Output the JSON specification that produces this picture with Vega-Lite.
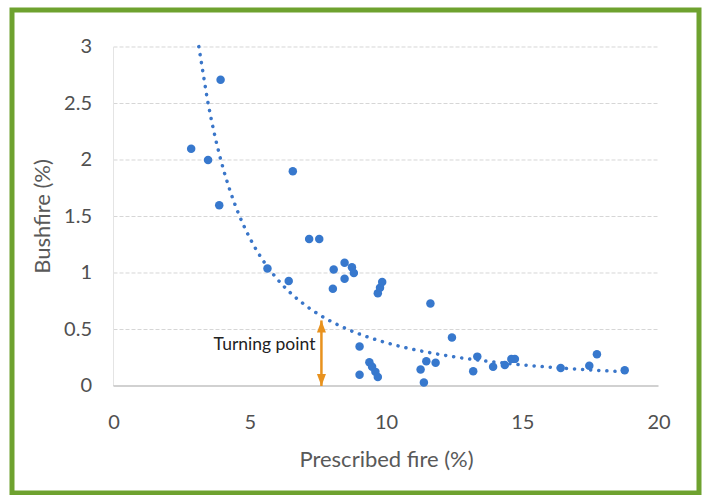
{
  "$schema": "https://vega.github.io/schema/vega-lite/v6.json",
  "width": 687,
  "height": 483,
  "autosize": "none",
  "padding": {"left": 12, "top": 10, "right": 7, "bottom": 2},
  "background": "white",
  "config": {
    "view": {"stroke": "#6ea22f", "strokeWidth": 5},
    "font": "Lato"
  },
  "datasets": {
    "points": [
      {"x": 2.85, "y": 2.10}, {"x": 3.47, "y": 2.00}, {"x": 3.88, "y": 1.60}, {"x": 3.93, "y": 2.71},
      {"x": 5.65, "y": 1.04}, {"x": 6.43, "y": 0.93}, {"x": 6.58, "y": 1.90}, {"x": 7.18, "y": 1.30},
      {"x": 7.55, "y": 1.30}, {"x": 8.05, "y": 0.86}, {"x": 8.08, "y": 1.03}, {"x": 8.48, "y": 1.09},
      {"x": 8.48, "y": 0.95}, {"x": 8.75, "y": 1.05}, {"x": 8.82, "y": 1.00}, {"x": 9.03, "y": 0.35},
      {"x": 9.03, "y": 0.10}, {"x": 9.39, "y": 0.21}, {"x": 9.49, "y": 0.17}, {"x": 9.61, "y": 0.125},
      {"x": 9.70, "y": 0.08}, {"x": 9.70, "y": 0.82}, {"x": 9.78, "y": 0.87}, {"x": 9.86, "y": 0.92},
      {"x": 11.27, "y": 0.145}, {"x": 11.39, "y": 0.03}, {"x": 11.48, "y": 0.22}, {"x": 11.63, "y": 0.73},
      {"x": 11.82, "y": 0.205}, {"x": 12.42, "y": 0.43}, {"x": 13.2, "y": 0.13}, {"x": 13.35, "y": 0.26},
      {"x": 13.93, "y": 0.17}, {"x": 14.36, "y": 0.185}, {"x": 14.6, "y": 0.24}, {"x": 14.73, "y": 0.24},
      {"x": 16.41, "y": 0.16}, {"x": 17.46, "y": 0.18}, {"x": 17.74, "y": 0.28}, {"x": 18.76, "y": 0.14}
    ],
    "grid": [{"y": 0.5}, {"y": 1}, {"y": 1.5}, {"y": 2}, {"y": 2.5}, {"y": 3}],
    "note": [{"x": 7.63, "bottom": 0, "top": 0.58, "label": "Turning point"}]
  },
  "layer": [
    {
      "data": {"name": "grid"},
      "mark": {"type": "rule", "color": "#d6d6d6", "strokeWidth": 1, "strokeDash": [4, 2]},
      "encoding": {
        "y": {"field": "y", "type": "quantitative"},
        "x": {"datum": 0, "type": "quantitative"},
        "x2": {"datum": 20}
      }
    },
    {
      "data": {"values": [{"x": 0, "y": 0, "y2": 3}]},
      "mark": {"type": "rule", "color": "#e4e4e4", "strokeWidth": 1},
      "encoding": {
        "x": {"field": "x", "type": "quantitative"},
        "y": {"field": "y", "type": "quantitative"},
        "y2": {"field": "y2"}
      }
    },
    {
      "data": {"values": [{"x": 0, "x2": 20, "y": 0}]},
      "mark": {"type": "rule", "color": "#a3a3a3", "strokeWidth": 1.2},
      "encoding": {
        "x": {"field": "x", "type": "quantitative"},
        "x2": {"field": "x2"},
        "y": {"field": "y", "type": "quantitative"}
      }
    },
    {
      "data": {"name": "points"},
      "transform": [{"regression": "y", "on": "x", "method": "pow", "extent": [3.13, 18.76]}],
      "mark": {"type": "line", "color": "#3a76c9", "strokeWidth": 3.5, "strokeDash": [0.1, 8], "strokeCap": "round"},
      "encoding": {
        "x": {"field": "x", "type": "quantitative"},
        "y": {"field": "y", "type": "quantitative"}
      }
    },
    {
      "data": {"name": "points"},
      "mark": {"type": "circle", "color": "#3778cd", "opacity": 1, "size": 72},
      "encoding": {
        "x": {
          "field": "x", "type": "quantitative",
          "scale": {"domain": [-3.7248, 21.486], "nice": false, "zero": false},
          "axis": {
            "orient": "bottom", "offset": -107, "values": [0, 5, 10, 15, 20],
            "domain": false, "ticks": false, "tickSize": 0, "grid": false,
            "labelFontSize": 20, "labelColor": "#505050", "labelPadding": 26, "labelFont": "Lato",
            "title": "Prescribed fire (%)", "titleFontSize": 22, "titleFontWeight": "normal",
            "titleColor": "#595959", "titleFont": "Lato", "titleBaseline": "alphabetic",
            "titleX": 374, "titleY": 80, "titleAlign": "center", "titleAnchor": null
          }
        },
        "y": {
          "field": "y", "type": "quantitative",
          "scale": {"domain": [-0.9469, 3.3274], "nice": false, "zero": false},
          "axis": {
            "orient": "left", "offset": -101.5, "values": [0, 0.5, 1, 1.5, 2, 2.5, 3], "format": "~g",
            "domain": false, "ticks": false, "tickSize": 0, "grid": false,
            "labelFontSize": 20, "labelColor": "#505050", "labelPadding": 22, "labelFont": "Lato",
            "title": "Bushfire (%)", "titleFontSize": 22, "titleFontWeight": "normal",
            "titleColor": "#595959", "titleFont": "Lato", "titleBaseline": "alphabetic",
            "titleX": -64, "titleY": 206, "titleAlign": "center", "titleAngle": -90
          }
        }
      }
    },
    {
      "data": {"name": "note"},
      "mark": {"type": "rule", "color": "#e8921e", "strokeWidth": 2.5},
      "encoding": {
        "x": {"field": "x", "type": "quantitative"},
        "y": {"field": "bottom", "type": "quantitative"},
        "y2": {"field": "top"}
      }
    },
    {
      "data": {"name": "note"},
      "mark": {"type": "point", "filled": true, "color": "#e8921e", "opacity": 1, "size": 100, "shape": "M0,0 L0.9,2.4 L-0.9,2.4 Z"},
      "encoding": {
        "x": {"field": "x", "type": "quantitative"},
        "y": {"field": "top", "type": "quantitative"}
      }
    },
    {
      "data": {"name": "note"},
      "mark": {"type": "point", "filled": true, "color": "#e8921e", "opacity": 1, "size": 100, "shape": "M0,0 L0.9,-2.4 L-0.9,-2.4 Z"},
      "encoding": {
        "x": {"field": "x", "type": "quantitative"},
        "y": {"field": "bottom", "type": "quantitative"}
      }
    },
    {
      "data": {"name": "note"},
      "mark": {"type": "text", "align": "right", "baseline": "middle", "dx": -6, "fontSize": 17.5, "font": "Lato", "color": "#222222"},
      "encoding": {
        "x": {"field": "x", "type": "quantitative"},
        "y": {"datum": 0.36, "type": "quantitative"},
        "text": {"field": "label"}
      }
    }
  ]
}
